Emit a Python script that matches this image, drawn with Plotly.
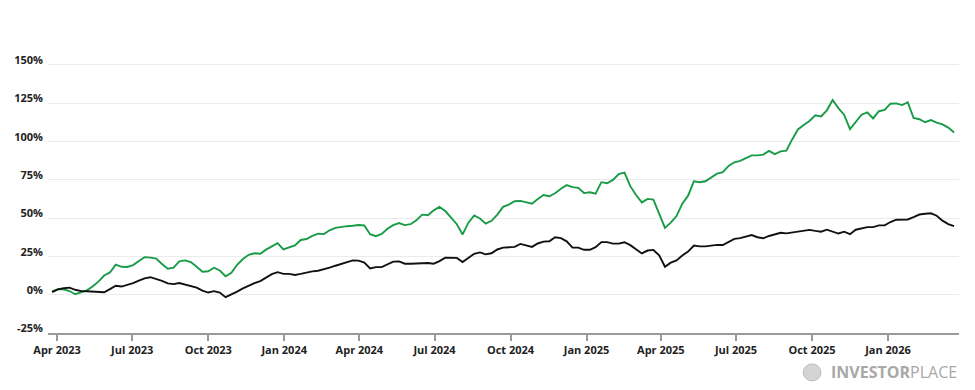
import pandas as pd
import plotly.graph_objects as go

# Weekly dates, Mar 26 2023 .. Mar 22 2026
dates = pd.date_range("2023-03-26", periods=157, freq="7D")

green_pct = [
    2.1, 3.6, 3.5, 2.4, 0.3, 1.3, 2.8, 5.3, 8.5, 12.5,
    14.5, 19.6, 18.2, 18.1, 19.3, 22.0, 24.5, 24.2, 23.5, 20.0,
    17.0, 17.6, 21.8, 22.4, 21.3, 18.2, 15.0, 15.3, 17.6, 15.8,
    12.0, 14.3, 19.5, 23.3, 26.0, 27.0, 26.7, 29.4, 31.6, 33.6,
    29.5, 30.8, 32.1, 35.7, 36.3, 38.4, 39.8, 39.5, 42.0, 43.6,
    44.3, 44.7, 45.0, 45.5, 45.2, 39.5, 38.2, 39.6, 43.0, 45.4,
    46.7, 45.4, 46.0, 48.5, 52.2, 51.8, 55.0, 57.3, 54.6, 50.5,
    46.0, 39.3, 47.0, 51.7, 49.7, 46.3, 48.2, 52.3, 57.3, 58.8,
    61.0, 61.2, 60.3, 59.4, 62.5, 65.0, 64.2, 66.2, 69.1, 71.5,
    70.2, 69.7, 66.3, 66.8, 65.9, 73.4, 72.7, 74.9, 78.7, 79.6,
    70.8, 65.0, 60.2, 62.5, 62.0, 52.3, 43.6, 47.0, 51.3, 59.4,
    64.6, 74.0, 73.4, 74.0, 76.5, 79.0, 80.0, 84.0, 86.4, 87.3,
    89.1, 90.9, 90.9, 91.4, 93.8, 91.7, 93.5, 94.0, 101.3, 107.8,
    110.7, 113.3, 117.0, 116.3, 120.3, 127.0, 121.7, 117.3, 108.0, 112.9,
    117.4, 119.0, 115.0, 119.7, 120.5, 124.6, 124.8, 123.7, 125.5, 115.3,
    114.5, 112.5, 113.9, 112.2, 111.1, 109.0, 105.8,
]

black_pct = [
    1.7, 3.5, 4.2, 4.6, 3.2, 2.3, 2.2, 1.9, 1.5, 1.6,
    3.6, 5.8, 5.3, 6.3, 7.5, 9.1, 10.7, 11.4, 10.4, 9.0,
    7.4, 6.9, 7.6, 6.6, 5.5, 4.6, 2.6, 1.4, 2.3, 1.4,
    -1.6, 0.1, 2.0, 4.1, 6.0, 7.5, 8.9, 11.4, 13.4, 14.7,
    13.6, 13.6, 12.9, 13.6, 14.6, 15.2, 15.6, 16.5, 17.6, 18.9,
    20.0, 21.3, 22.4, 22.2, 21.0, 17.1, 18.0, 18.0, 19.7, 21.6,
    21.7, 20.2, 20.2, 20.5, 20.8, 20.7, 20.2, 21.9, 24.2, 23.9,
    24.0, 21.3, 24.1, 26.7, 27.6, 26.3, 27.0, 29.5, 30.7, 31.0,
    31.2, 33.1, 32.1, 31.2, 33.4, 34.6, 34.9, 37.5, 36.9, 34.8,
    30.7, 30.7, 29.3, 29.3, 31.0, 34.3, 34.3, 33.3, 33.3, 34.2,
    32.3, 29.8, 26.9, 28.8, 29.2, 25.7, 18.2, 20.9, 22.4, 25.6,
    28.1, 32.1, 31.5, 31.5, 32.0, 32.5, 32.4, 34.2, 36.4, 36.9,
    38.0, 38.9, 37.5, 36.8, 38.3, 39.4, 40.4, 40.0, 40.6, 40.8,
    41.5, 42.3, 41.6, 41.1, 42.4, 41.4, 39.9, 41.1, 39.5, 42.4,
    43.5, 44.1, 44.1, 45.2, 45.2, 47.4, 48.9, 48.9, 49.1, 50.6,
    52.3, 52.8, 53.1, 51.5, 48.3, 46.0, 44.7,
]

y_ticks = [-25, 0, 25, 50, 75, 100, 125, 150]
y_tick_labels = [f"{v}%" for v in y_ticks]

fig = go.Figure()
fig.add_trace(go.Scatter(
    x=dates, y=green_pct, mode="lines",
    line=dict(color="#189b47", width=1.9), hoverinfo="skip", showlegend=False,
))
fig.add_trace(go.Scatter(
    x=dates, y=black_pct, mode="lines",
    line=dict(color="#111111", width=1.9), hoverinfo="skip", showlegend=False,
))

fig.update_layout(
    width=975, height=390,
    margin=dict(l=48, r=16, t=30, b=57),
    paper_bgcolor="white", plot_bgcolor="white",
    font=dict(family="Open Sans", color="#222222"),
    xaxis=dict(
        range=["2023-03-21", "2026-03-28"],
        tickformat="%b %Y", dtick="M3", tick0="2023-04-01",
        showgrid=False, showline=True, linecolor="#9a9a9a", linewidth=1.5,
        ticks="outside", ticklen=6, tickcolor="#9a9a9a", tickwidth=1.5,
        tickfont=dict(size=11, family="Open Sans", weight="bold", color="#222"),
        zeroline=False, automargin=False,
    ),
    yaxis=dict(
        range=[-25, 172.7],
        tickvals=y_ticks, ticktext=y_tick_labels,
        showgrid=True, gridcolor="#ebebeb", gridwidth=1.2,
        zeroline=False, showline=False, ticks="",
        ticklabelposition="outside top", ticklabelstandoff=4,
        ticklabelshift=3,
        tickfont=dict(size=11, family="Open Sans", weight="bold", color="#222"),
        automargin=False,
    ),
)

# watermark globe icon + text
fig.add_shape(
    type="circle", xref="paper", yref="paper",
    x0=0.829, x1=0.8485, y0=-0.158, y1=-0.102,
    fillcolor="#d4d4d4", line=dict(color="#bdbdbd", width=1),
)
fig.add_annotation(
    xref="paper", yref="paper", x=1.0, y=-0.129,
    xanchor="right", yanchor="middle", showarrow=False,
    text="<b>INVESTOR</b>PLACE",
    font=dict(size=16, family="Open Sans", color="#a8a8a8"),
)

fig.write_html(
    "out.html",
    config={"displayModeBar": False},
    post_script="document.body.style.margin='0';",
)
